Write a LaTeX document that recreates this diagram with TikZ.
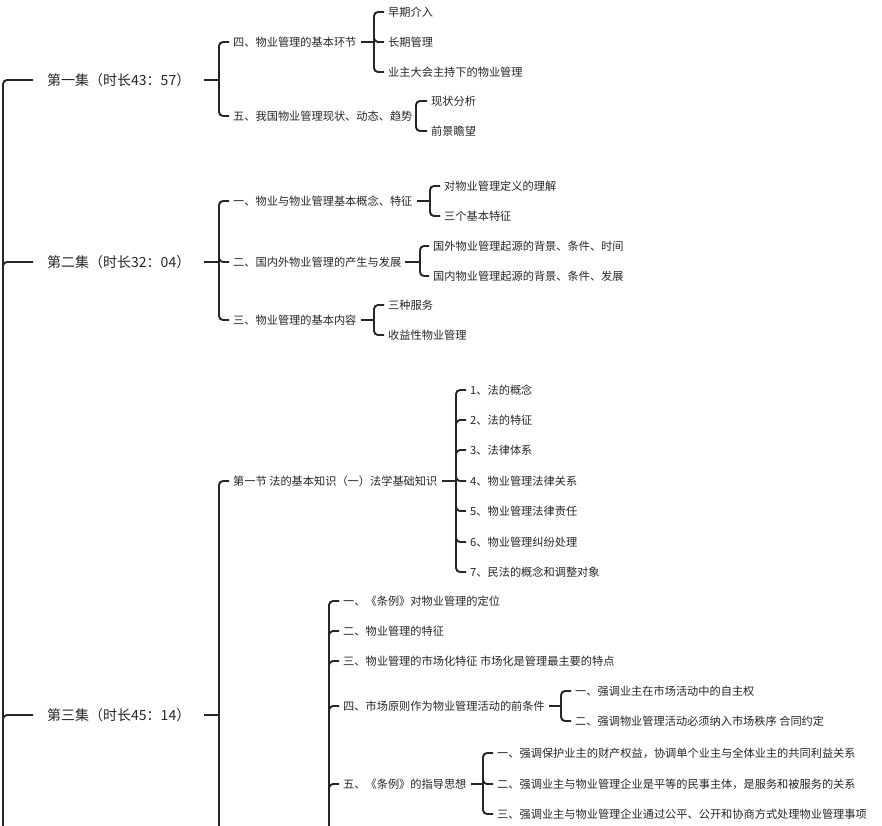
\documentclass[tikz,border=0pt]{standalone}
\usepackage{fontspec}
\setmainfont{Noto Sans CJK SC}
\definecolor{ln}{HTML}{262626}
\definecolor{tx}{HTML}{262626}
\begin{document}
\begin{tikzpicture}[x=1pt,y=-1pt,
  conn/.style={draw=ln, line width=1.9pt, rounded corners=4pt},
  lone/.style={anchor=west, inner xsep=14pt, inner ysep=0pt, font=\fontsize{14}{15}\selectfont, text=tx},
  ltwo/.style={anchor=west, inner xsep=4pt, inner ysep=0pt, font=\fontsize{11.2}{12}\selectfont, text=tx}]
\useasboundingbox (0,0) rectangle (882,825);
\clip (0,0) rectangle (882,825);
% ---------- level 1
\coordinate (root) at (3,900);
\node[lone] (L1) at (33,80) {第一集（时长43：57）};
\node[lone] (L2) at (33,262) {第二集（时长32：04）};
\node[lone] (L3) at (33,715) {第三集（时长45：14）};
\foreach \n in {L1,L2,L3} \draw[conn] (root) |- (\n.west);
% ---------- level 2
\node[ltwo] (A1) at (229,42) {四、物业管理的基本环节};
\node[ltwo] (A2) at (229,116) {五、我国物业管理现状、动态、趋势};
\node[ltwo] (B1) at (229,201) {一、物业与物业管理基本概念、特征};
\node[ltwo] (B2) at (229,262) {二、国内外物业管理的产生与发展};
\node[ltwo] (B3) at (229,320) {三、物业管理的基本内容};
\node[ltwo] (C1) at (229,481) {第一节 法的基本知识（一）法学基础知识};
\coordinate (C2) at (229,880);
\draw[conn] (L1.east) -- (219,80);
\draw[conn] (L2.east) -- (219,262);
\draw[conn] (L3.east) -- (219,715);
\foreach \n in {A1,A2} \draw[conn] (219,80) |- (\n.west);
\foreach \n in {B1,B2,B3} \draw[conn] (219,262) |- (\n.west);
\foreach \n in {C1,C2} \draw[conn] (219,715) |- (\n);
% ---------- level 3 : A1
\node[ltwo] (a11) at (384,12) {早期介入};
\node[ltwo] (a12) at (384,42) {长期管理};
\node[ltwo] (a13) at (384,72) {业主大会主持下的物业管理};
\draw[conn] (A1.east) -- (374,42);
\foreach \n in {a11,a12,a13} \draw[conn] (374,42) |- (\n.west);
% A2
\node[ltwo] (a21) at (427,101) {现状分析};
\node[ltwo] (a22) at (427,131) {前景瞻望};
\draw[conn] (A2.east) -- (416,116);
\foreach \n in {a21,a22} \draw[conn] (416,116) |- (\n.west);
% B1
\node[ltwo] (b11) at (440,186) {对物业管理定义的理解};
\node[ltwo] (b12) at (440,216) {三个基本特征};
\draw[conn] (B1.east) -- (430,201);
\foreach \n in {b11,b12} \draw[conn] (430,201) |- (\n.west);
% B2
\node[ltwo] (b21) at (429,246) {国外物业管理起源的背景、条件、时间};
\node[ltwo] (b22) at (429,276) {国内物业管理起源的背景、条件、发展};
\draw[conn] (B2.east) -- (420,262);
\foreach \n in {b21,b22} \draw[conn] (420,262) |- (\n.west);
% B3
\node[ltwo] (b31) at (384,305) {三种服务};
\node[ltwo] (b32) at (384,335) {收益性物业管理};
\draw[conn] (B3.east) -- (374,320);
\foreach \n in {b31,b32} \draw[conn] (374,320) |- (\n.west);
% C1
\node[ltwo] (c11) at (466,390) {1、法的概念};
\node[ltwo] (c12) at (466,420) {2、法的特征};
\node[ltwo] (c13) at (466,450) {3、法律体系};
\node[ltwo] (c14) at (466,481) {4、物业管理法律关系};
\node[ltwo] (c15) at (466,511) {5、物业管理法律责任};
\node[ltwo] (c16) at (466,542) {6、物业管理纠纷处理};
\node[ltwo] (c17) at (466,572) {7、民法的概念和调整对象};
\draw[conn] (C1.east) -- (456,481);
\foreach \n in {c11,c12,c13,c14,c15,c16,c17} \draw[conn] (456,481) |- (\n.west);
% C2 (parent below the visible area)
\node[ltwo] (d1) at (339,601) {一、《条例》对物业管理的定位};
\node[ltwo] (d2) at (339,631) {二、物业管理的特征};
\node[ltwo] (d3) at (339,661) {三、物业管理的市场化特征 市场化是管理最主要的特点};
\node[ltwo] (d4) at (339,706) {四、市场原则作为物业管理活动的前条件};
\node[ltwo] (d5) at (339,784) {五、《条例》的指导思想};
\coordinate (d6) at (339,880);
\draw[conn] (C2) -- (329,880);
\foreach \n in {d1,d2,d3,d4,d5} \draw[conn] (329,880) |- (\n.west);
% d4
\node[ltwo] (d41) at (571,691) {一、强调业主在市场活动中的自主权};
\node[ltwo] (d42) at (571,721) {二、强调物业管理活动必须纳入市场秩序 合同约定};
\draw[conn] (d4.east) -- (561,706);
\foreach \n in {d41,d42} \draw[conn] (561,706) |- (\n.west);
% d5
\node[ltwo] (d51) at (493,753) {一、强调保护业主的财产权益，协调单个业主与全体业主的共同利益关系};
\node[ltwo] (d52) at (493,784) {二、强调业主与物业管理企业是平等的民事主体，是服务和被服务的关系};
\node[ltwo] (d53) at (493,814) {三、强调业主与物业管理企业通过公平、公开和协商方式处理物业管理事项};
\draw[conn] (d5.east) -- (483,784);
\foreach \n in {d51,d52,d53} \draw[conn] (483,784) |- (\n.west);
\end{tikzpicture}
\end{document}
